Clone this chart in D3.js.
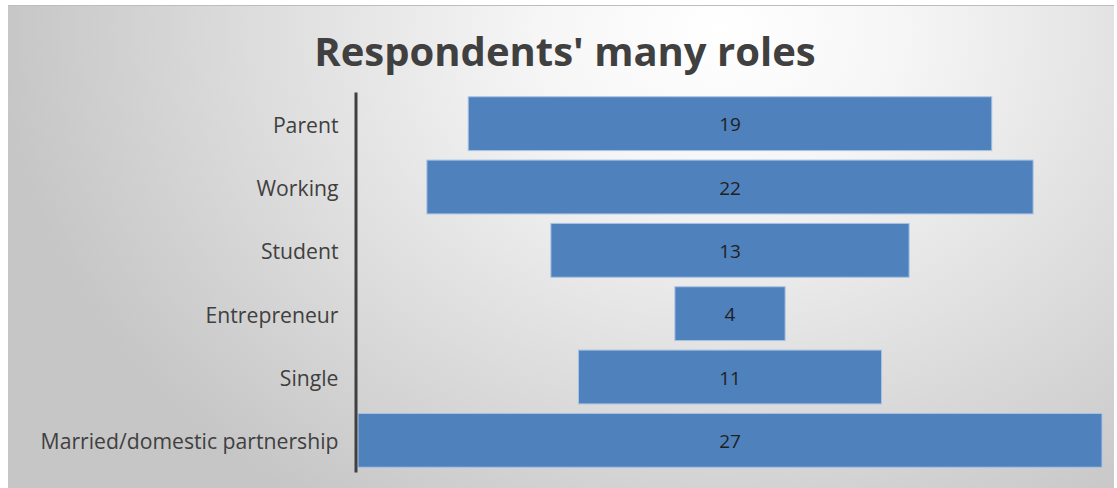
<!DOCTYPE html>
<html><head><meta charset="utf-8">
<script src="https://cdn.jsdelivr.net/npm/d3@7"></script>
<style>body{margin:0;background:#fff}svg{display:block}</style>
</head><body>
<script>
const categories = ["Parent","Working","Student","Entrepreneur","Single","Married/domestic partnership"];
const values = [19,22,13,4,11,27];
const title = "Respondents' many roles";

const W = 1117, H = 488;
const svg = d3.select("body").append("svg").attr("width", W).attr("height", H);
const defs = svg.append("defs");
const grad = defs.append("radialGradient").attr("id","bg")
  .attr("gradientUnits","userSpaceOnUse").attr("cx",720).attr("cy",30).attr("r",720)
  .attr("gradientTransform","translate(720,30) scale(1,0.8) translate(-720,-30)");
grad.append("stop").attr("offset","0%").attr("stop-color","#ffffff");
grad.append("stop").attr("offset","25%").attr("stop-color","#f6f6f6");
grad.append("stop").attr("offset","100%").attr("stop-color","#c6c6c6");

svg.append("rect").attr("x",8).attr("y",5).attr("width",1106).attr("height",483).attr("fill","url(#bg)");
svg.append("line").attr("x1",8).attr("x2",1114).attr("y1",5.5).attr("y2",5.5).attr("stroke","#bdbdbd");

svg.append("text").attr("x",565).attr("y",66).attr("text-anchor","middle")
  .attr("font-family","Open Sans").attr("font-weight","bold").attr("font-size",40)
  .attr("fill","#404040").text(title);

const center = 730;
const x = d3.scaleLinear().domain([0, d3.max(values)]).range([0, 744]);
const y = d3.scaleBand().domain(categories).range([92, 472]).paddingInner(0.15).paddingOuter(0.075);

const g = svg.append("g");
g.selectAll("rect.bar").data(values).join("rect").attr("class","bar")
  .attr("x", d => center - x(d)/2)
  .attr("y", (d,i) => y(categories[i]))
  .attr("width", d => x(d))
  .attr("height", y.bandwidth())
  .attr("fill","#4f81bd").attr("stroke","#a9c4e4").attr("stroke-width",1);

g.selectAll("text.val").data(values).join("text").attr("class","val")
  .attr("x", center).attr("y",(d,i)=> y(categories[i]) + y.bandwidth()/2)
  .attr("dy","0.4em").attr("text-anchor","middle")
  .attr("font-family","Open Sans").attr("font-size",19).attr("fill","#1f1f1f")
  .text(d=>d);

const axis = d3.axisLeft(y).tickSize(0).tickPadding(17);
const ag = svg.append("g").attr("transform","translate(355.5,0)").call(axis);
ag.select(".domain").attr("stroke","#404040").attr("stroke-width",3);
ag.selectAll(".tick text").attr("font-family","Open Sans").attr("font-size",21.2).attr("fill","#404040").attr("dy","0.42em");
</script>
</body></html>
